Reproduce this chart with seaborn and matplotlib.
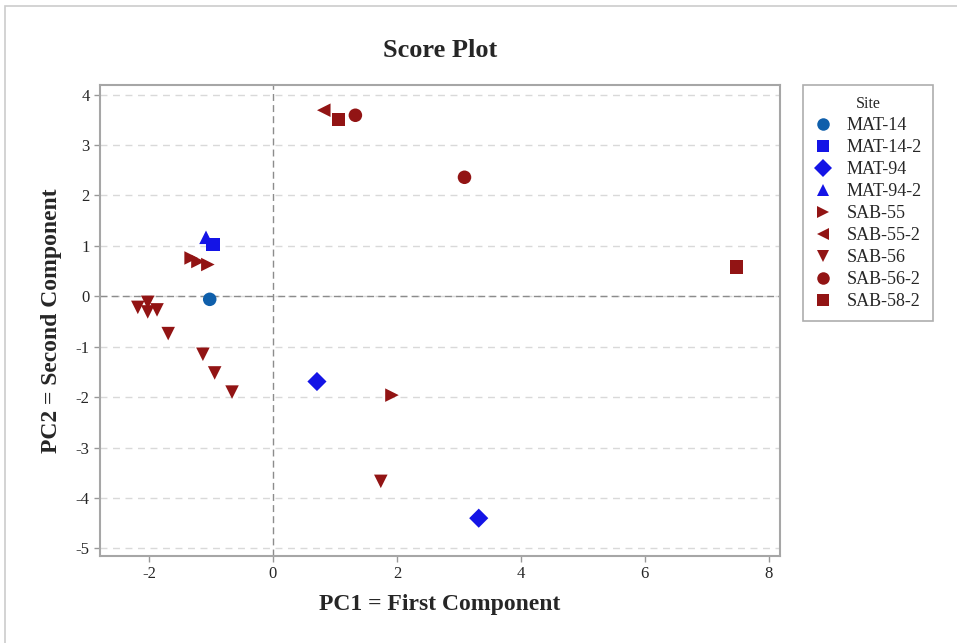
import numpy as np
import pandas as pd
import matplotlib
matplotlib.use("Agg")
import matplotlib.pyplot as plt
import seaborn as sns
from matplotlib.patches import Rectangle

# score values
sites = ['MAT-14', 'MAT-14-2', 'MAT-94', 'MAT-94', 'MAT-94-2',
         'SAB-55', 'SAB-55', 'SAB-55', 'SAB-55',
         'SAB-55-2',
         'SAB-56', 'SAB-56', 'SAB-56', 'SAB-56', 'SAB-56',
         'SAB-56', 'SAB-56', 'SAB-56', 'SAB-56',
         'SAB-56-2', 'SAB-56-2',
         'SAB-58-2', 'SAB-58-2']
pc1 = [-1.02, -0.97, 0.71, 3.32, -1.08,
       -1.32, -1.21, -1.05, 1.92,
       0.82,
       -2.18, -2.02, -2.02, -1.87, -1.69,
       -1.13, -0.94, -0.66, 1.74,
       1.33, 3.09,
       1.06, 7.48]
pc2 = [-0.06, 1.03, -1.69, -4.40, 1.17,
       0.76, 0.69, 0.63, -1.96,
       3.69,
       -0.22, -0.12, -0.31, -0.27, -0.74,
       -1.15, -1.52, -1.90, -3.67,
       3.59, 2.36,
       3.51, 0.58]

site_order = ['MAT-14', 'MAT-14-2', 'MAT-94', 'MAT-94-2', 'SAB-55',
              'SAB-55-2', 'SAB-56', 'SAB-56-2', 'SAB-58-2']
site_colors = ['#0f5fab', '#1414e6', '#1414e6', '#1414e6', '#921414',
               '#921414', '#921414', '#921414', '#921414']
site_markers = ['o', 's', 'D', '^', '>', '<', 'v', 'o', 's']

df = pd.DataFrame({'Site': sites, 'PC1': pc1, 'PC2': pc2})

sns.set_style('white')
plt.rcParams['font.family'] = ['Liberation Serif', 'DejaVu Serif']
plt.rcParams['axes.unicode_minus'] = False

fig = plt.figure(figsize=(9.57, 6.43), dpi=100)
ax = fig.add_axes([100 / 957, 1 - 556 / 643, 680 / 957, 471 / 643])

for y in range(-5, 5):
    ax.axhline(y, color='#d9d9d9', lw=1, ls=(0, (5, 4)), zorder=0)
ax.axhline(0, color='#8c8c8c', lw=1, ls=(0, (5, 3)), zorder=1)
ax.axvline(0, color='#8c8c8c', lw=1, ls=(0, (5, 3)), zorder=1)

sns.scatterplot(data=df, x='PC1', y='PC2', hue='Site', style='Site',
                hue_order=site_order, style_order=site_order,
                palette=dict(zip(site_order, site_colors)),
                markers=dict(zip(site_order, site_markers)),
                s=95, linewidth=0, ax=ax, zorder=3)

ax.set_xlim(-2.79, 8.18)
ax.set_ylim(-5.15, 4.19)
ax.set_xticks([-2, 0, 2, 4, 6, 8])
ax.set_yticks(range(-5, 5))
ax.tick_params(axis='both', direction='out', length=4, width=1, color='#999999',
               labelsize=12, bottom=True, left=True)
for sp in ax.spines.values():
    sp.set_color('#a6a6a6')
    sp.set_linewidth(1.5)

ax.set_title('Score Plot', fontsize=19, fontweight='bold', pad=20)
ax.set_xlabel('PC1 = First Component', fontsize=17, fontweight='bold', labelpad=8)
ax.set_ylabel('PC2 = Second Component', fontsize=17, fontweight='bold', labelpad=10)

leg = ax.legend(title='Site', loc='upper left', bbox_to_anchor=(1.034, 1.0),
                frameon=True, fontsize=13, title_fontsize=11.5,
                borderpad=0.6, labelspacing=0.28, handlelength=1.0,
                handletextpad=0.8, borderaxespad=0, fancybox=False)
leg.get_frame().set_edgecolor('#999999')
leg.get_frame().set_linewidth(1.2)
for h in leg.legend_handles:
    h.set_markersize(9)

# outer light frame of the figure
fig.patches.append(Rectangle((5 / 957, -0.05), 1.2, 1 - 6 / 643 + 0.05,
                             transform=fig.transFigure, fill=False,
                             edgecolor='#cccccc', lw=1.2, figure=fig))

fig.savefig('out.png', dpi=100)
